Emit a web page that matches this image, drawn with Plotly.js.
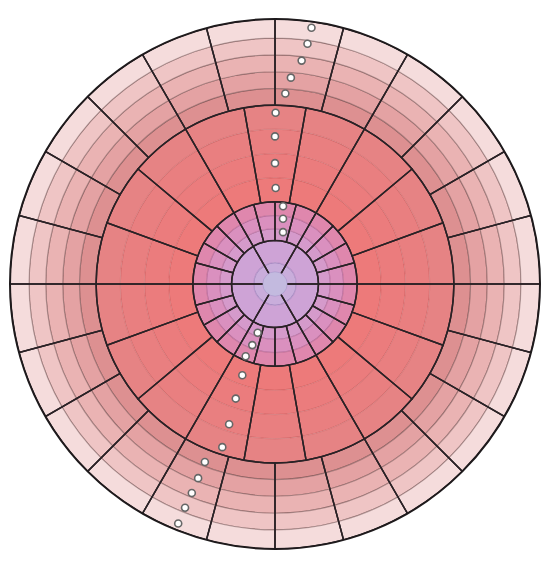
<!DOCTYPE html>
<html>
<head>
<meta charset="utf-8">
<script src="https://cdn.plot.ly/plotly-3.0.1.min.js"></script>
<style>html,body{margin:0;padding:0;background:#fff;}#chart{width:550px;height:565px;}</style>
</head>
<body>
<div id="chart"></div>
<script>
// ---- data ----
const centerRadius = 4.6;
const centerColor = '#c3badf';

const level1Edges = [0, 8.0, 16.4];
const level1Colors = ['#c9addb', '#cea3d6'];
const level1Sectors = 6;

const level2Edges = [16.4, 20.9, 25.9, 31.0];
const level2Colors = ['#d59acb', '#da90bf', '#df87ad'];
const level2Sectors = 24;

const level3Edges = [31.0, 40.1, 49.25, 58.4, 67.5];
const level3Colors = ['#ed7a7a', '#eb7c7d', '#e97f80', '#e68384'];
const level3Sectors = 18;

const level4Edges = [67.5, 73.8, 80.1, 86.5, 92.8, 100];
const level4Colors = ['#dd9091', '#e4a2a3', '#eab3b3', '#efc5c5', '#f5dcdc'];
const level4Sectors = 24;

const upperR = [19.8, 24.8, 29.5, 36.2, 45.6, 55.7, 64.6, 72.0, 78.1, 84.9, 91.5, 97.7];
const upperTheta = [81.2, 83.0, 84.1, 89.6, 90, 90, 89.8, 86.9, 85.6, 83.2, 82.3, 81.9];
const lowerR = [19.5, 24.6, 29.4, 36.6, 45.7, 55.7, 64.7, 72.2, 78.8, 84.9, 91.0, 97.5];
const lowerTheta = [250.4, 249.6, 247.9, 250.3, 251.1, 251.9, 252.1, 248.5, 248.4, 248.3, 248.1, 248.0];

// ---- build ----
const levels = [
  {edges: level1Edges, colors: level1Colors, n: level1Sectors, band: 'rgba(120,90,160,0.25)'},
  {edges: level2Edges, colors: level2Colors, n: level2Sectors, band: 'rgba(140,60,110,0.28)'},
  {edges: level3Edges, colors: level3Colors, n: level3Sectors, band: 'rgba(150,50,50,0.16)'},
  {edges: level4Edges, colors: level4Colors, n: level4Sectors, band: 'rgba(100,70,70,0.42)'}
];

function sectorCenters(n) {
  const w = 360 / n, out = [];
  for (let k = 0; k < n; k++) out.push(w / 2 + k * w);
  return out;
}

const traces = [];
levels.forEach(lv => {
  const th = sectorCenters(lv.n);
  const w = 360 / lv.n;
  for (let b = 0; b < lv.colors.length; b++) {
    traces.push({
      type: 'barpolar',
      theta: th,
      r: th.map(() => lv.edges[b + 1] - lv.edges[b]),
      base: th.map(() => lv.edges[b]),
      width: th.map(() => w),
      marker: {color: lv.colors[b], line: {color: lv.band, width: 1.2}},
      hoverinfo: 'skip'
    });
  }
});
levels.forEach(lv => {
  const th = sectorCenters(lv.n);
  const w = 360 / lv.n;
  const inner = lv.edges[0], outer = lv.edges[lv.edges.length - 1];
  traces.push({
    type: 'barpolar',
    theta: th,
    r: th.map(() => outer - inner),
    base: th.map(() => inner),
    width: th.map(() => w),
    marker: {color: 'rgba(0,0,0,0)', line: {color: '#2a2226', width: 1.5}},
    hoverinfo: 'skip'
  });
});
traces.push({
  type: 'barpolar',
  theta: [0], r: [centerRadius], base: [0], width: [360],
  marker: {color: centerColor, line: {color: 'rgba(150,130,190,0.35)', width: 1}},
  hoverinfo: 'skip'
});
const markerStyle = {size: 7, color: '#ffffff', line: {color: '#666666', width: 1.6}};
traces.push({type: 'scatterpolar', mode: 'markers', r: upperR, theta: upperTheta, marker: markerStyle});
traces.push({type: 'scatterpolar', mode: 'markers', r: lowerR, theta: lowerTheta, marker: markerStyle});

const layout = {
  width: 550, height: 565,
  margin: {l: 10, r: 10, t: 19, b: 16},
  paper_bgcolor: '#ffffff',
  showlegend: false,
  polar: {
    barmode: 'overlay',
    bgcolor: 'rgba(0,0,0,0)',
    radialaxis: {visible: false, range: [0, 100]},
    angularaxis: {showline: true, linecolor: '#1e1a1c', linewidth: 2, showgrid: false,
                  showticklabels: false, ticks: ''}
  }
};
Plotly.newPlot('chart', traces, layout, {displayModeBar: false, staticPlot: true});
</script>
</body>
</html>
